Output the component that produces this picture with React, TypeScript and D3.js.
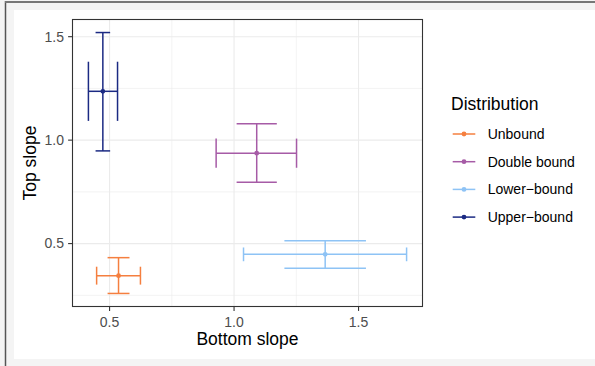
import React from "react";
import * as d3 from "d3";

const categories = ["Unbound", "Double bound", "Lower\u2212bound", "Upper\u2212bound"];
const colors = ["#F57F3F", "#A65BA6", "#8EC3F5", "#1B2A83"];
const xMid = [0.536, 1.091, 1.366, 0.473];
const xLo = [0.448, 0.928, 1.038, 0.415];
const xHi = [0.624, 1.251, 1.693, 0.532];
const yMid = [0.345, 0.937, 0.448, 1.236];
const yLo = [0.259, 0.797, 0.381, 0.948];
const yHi = [0.432, 1.079, 0.514, 1.52];
const xTicks = [0.5, 1.0, 1.5];
const yTicks = [0.5, 1.0, 1.5];
const xMinor = [0.75, 1.25];
const yMinor = [0.25, 0.75, 1.25];

const W = 595;
const H = 366;
const P = { l: 72.5, r: 422.5, t: 19.5, b: 306.5 };
const FONT = "'Liberation Sans', Arial, sans-serif";

function expand(lo: number, hi: number): [number, number] {
  const d = (hi - lo) * 0.05;
  return [lo - d, hi + d];
}

export default function App() {
  const x = d3.scaleLinear().domain(expand(d3.min(xLo)!, d3.max(xHi)!)).range([P.l, P.r]);
  const y = d3.scaleLinear().domain(expand(d3.min(yLo)!, d3.max(yHi)!)).range([P.b, P.t]);
  const fmt = d3.format(".1f");
  const lw = 1.5;

  return (
    <svg
      width={W}
      height={H}
      style={{ position: "absolute", left: 0, top: 0, display: "block" }}
      fontFamily={FONT}
    >
      <rect x={0} y={0} width={W} height={H} fill="#f4f4f4" />
      <line x1={5.5} y1={1} x2={5.5} y2={H} stroke="#555" strokeWidth={1.5} />
      <line x1={5} y1={2} x2={W} y2={2} stroke="#777" strokeWidth={2} />
      <rect x={14} y={10} width={W - 14} height={349} fill="#fff" />

      {/* grid */}
      {xMinor.map((v) => (
        <line key={"xm" + v} x1={x(v)} x2={x(v)} y1={P.t} y2={P.b} stroke="#ebebeb" strokeWidth={0.6} />
      ))}
      {yMinor.map((v) => (
        <line key={"ym" + v} x1={P.l} x2={P.r} y1={y(v)} y2={y(v)} stroke="#ebebeb" strokeWidth={0.6} />
      ))}
      {xTicks.map((v) => (
        <line key={"xg" + v} x1={x(v)} x2={x(v)} y1={P.t} y2={P.b} stroke="#ebebeb" strokeWidth={1.1} />
      ))}
      {yTicks.map((v) => (
        <line key={"yg" + v} x1={P.l} x2={P.r} y1={y(v)} y2={y(v)} stroke="#ebebeb" strokeWidth={1.1} />
      ))}

      {/* error bars */}
      {categories.map((c, i) => {
        const cx = x(xMid[i]);
        const cy = y(yMid[i]);
        const capW = (x(xHi[i]) - x(xLo[i])) / 4;
        const capH = (y(yLo[i]) - y(yHi[i])) / 4;
        return (
          <g key={c} stroke={colors[i]} strokeWidth={lw} fill="none">
            <line x1={cx} x2={cx} y1={y(yLo[i])} y2={y(yHi[i])} />
            <line x1={cx - capW} x2={cx + capW} y1={y(yLo[i])} y2={y(yLo[i])} />
            <line x1={cx - capW} x2={cx + capW} y1={y(yHi[i])} y2={y(yHi[i])} />
            <line x1={x(xLo[i])} x2={x(xHi[i])} y1={cy} y2={cy} />
            <line x1={x(xLo[i])} x2={x(xLo[i])} y1={cy - capH} y2={cy + capH} />
            <line x1={x(xHi[i])} x2={x(xHi[i])} y1={cy - capH} y2={cy + capH} />
            <circle cx={cx} cy={cy} r={2.4} fill={colors[i]} stroke="none" />
          </g>
        );
      })}

      {/* panel border */}
      <rect x={P.l} y={P.t} width={P.r - P.l} height={P.b - P.t} fill="none" stroke="#333" strokeWidth={1.1} />

      {/* axes */}
      {xTicks.map((v) => (
        <g key={"xt" + v}>
          <line x1={x(v)} x2={x(v)} y1={P.b} y2={P.b + 4.4} stroke="#333" strokeWidth={1.1} />
          <text x={x(v)} y={P.b + 20.5} textAnchor="middle" fontSize={14} fill="#4d4d4d">
            {fmt(v)}
          </text>
        </g>
      ))}
      {yTicks.map((v) => (
        <g key={"yt" + v}>
          <line x1={P.l - 4.4} x2={P.l} y1={y(v)} y2={y(v)} stroke="#333" strokeWidth={1.1} />
          <text x={P.l - 8.5} y={y(v)} dy="0.35em" textAnchor="end" fontSize={14} fill="#4d4d4d">
            {fmt(v)}
          </text>
        </g>
      ))}
      <text x={(P.l + P.r) / 2} y={345} textAnchor="middle" fontSize={17.5} fill="#000">
        Bottom slope
      </text>
      <text
        transform={`translate(36,${(P.t + P.b) / 2}) rotate(-90)`}
        textAnchor="middle"
        fontSize={17.5}
        fill="#000"
      >
        Top slope
      </text>

      {/* legend */}
      <text x={451} y={110} fontSize={17.5} fill="#000">
        Distribution
      </text>
      {categories.map((c, i) => {
        const ry = 134 + i * 27.7;
        return (
          <g key={"lg" + c}>
            <line x1={452.7} x2={475.3} y1={ry} y2={ry} stroke={colors[i]} strokeWidth={lw} />
            <circle cx={464} cy={ry} r={2.4} fill={colors[i]} />
            <text x={487.7} y={ry} dy="0.36em" fontSize={14} fill="#000">
              {c}
            </text>
          </g>
        );
      })}
    </svg>
  );
}
